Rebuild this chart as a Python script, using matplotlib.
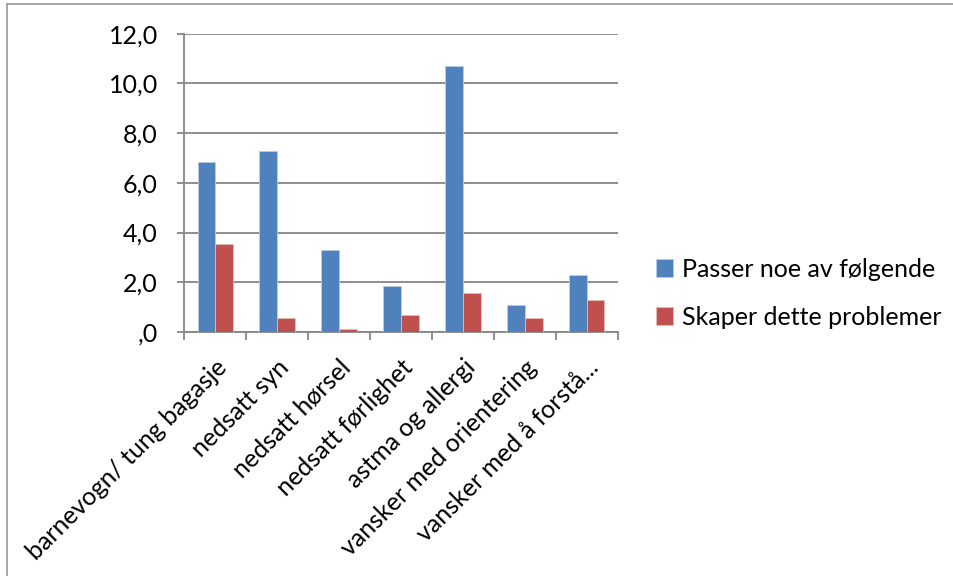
import numpy as np
import matplotlib.pyplot as plt
from matplotlib.ticker import FuncFormatter

plt.rcParams['font.family'] = ['Lato', 'DejaVu Sans']

categories = ["barnevogn/ tung bagasje", "nedsatt syn", "nedsatt hørsel",
              "nedsatt førlighet", "astma og allergi",
              "vansker med orientering", "vansker med å forstå..."]
passer = [6.85, 7.3, 3.3, 1.85, 10.7, 1.1, 2.3]
skaper = [3.55, 0.55, 0.12, 0.7, 1.55, 0.55, 1.3]
series_names = ["Passer noe av følgende", "Skaper dette problemer"]

blue = "#4f81bd"
red = "#c0504d"
grid = "#868686"

fig = plt.figure(figsize=(9.54, 5.76), dpi=100)
ax = fig.add_axes([0.1932, 0.4236, 0.4543, 0.5179])

x = np.arange(len(categories))
w = 1 / 3.5
ax.bar(x - w / 2, passer, w, color=blue, edgecolor="#b9cde5", linewidth=0.6,
       label=series_names[0], zorder=3)
ax.bar(x + w / 2, skaper, w, color=red, edgecolor="#e6b9b8", linewidth=0.6,
       label=series_names[1], zorder=3)

ax.set_xlim(-0.5, len(categories) - 0.5)
ax.set_ylim(0, 12)
ax.set_yticks(np.arange(0, 13, 2))
ax.yaxis.set_major_formatter(FuncFormatter(
    lambda v, p: ",0" if v == 0 else f"{v:.1f}".replace(".", ",")))
ax.yaxis.grid(True, color=grid, linewidth=1.3, zorder=0)

for s in ["top", "right"]:
    ax.spines[s].set_visible(False)
for s in ["left", "bottom"]:
    ax.spines[s].set_color(grid)
    ax.spines[s].set_linewidth(1.3)

ax.tick_params(axis="y", length=5, width=1.3, color=grid, labelsize=18, pad=14)
# category ticks sit between the bar groups
ax.set_xticks(np.arange(-0.5, len(categories), 1))
ax.set_xticklabels([])
ax.tick_params(axis="x", length=6, width=1.3, color=grid)
for i, c in enumerate(categories):
    ax.annotate(c, xy=(i, 0), xycoords=("data", "axes fraction"),
                xytext=(0, -17), textcoords="offset points",
                rotation=45, rotation_mode="anchor", ha="right", va="top",
                fontsize=18)

leg = fig.legend(loc="upper left", bbox_to_anchor=(0.664, 0.592), frameon=False,
                 fontsize=18, handlelength=0.7, handleheight=0.7,
                 handletextpad=0.35, labelspacing=1.0)

# thin chart frame along the top and left edges
fig.add_artist(plt.Line2D([0.0073, 0.0073], [0, 0.9935], color="#a0a0a0",
                          linewidth=1.3, transform=fig.transFigure))
fig.add_artist(plt.Line2D([0.0073, 1], [0.9935, 0.9935], color="#a0a0a0",
                          linewidth=1.3, transform=fig.transFigure))

fig.savefig("out.png", dpi=100)
